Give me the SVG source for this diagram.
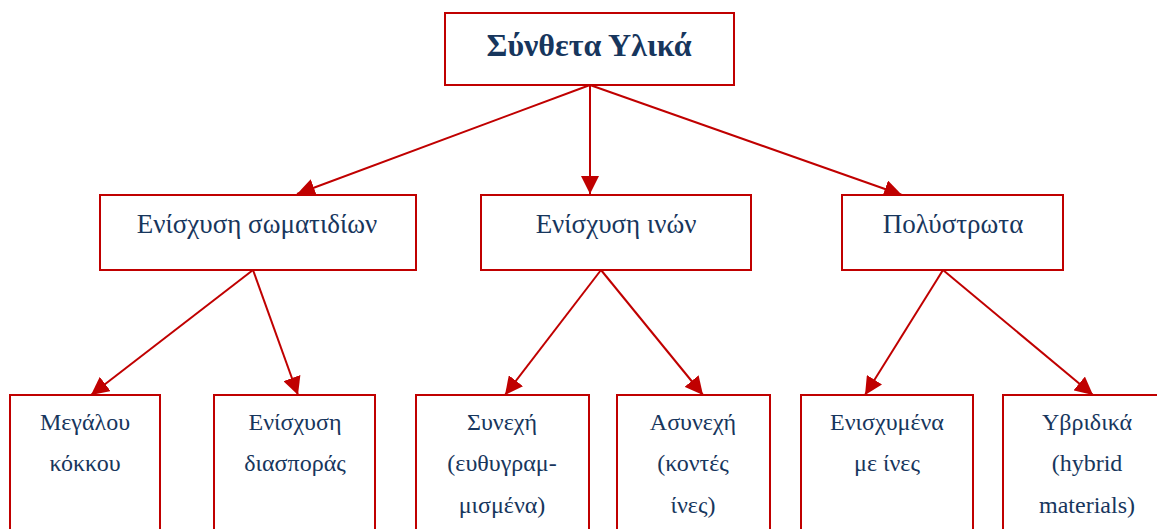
<svg xmlns="http://www.w3.org/2000/svg" width="1157" height="529" viewBox="0 0 1157 529">
<style>
.box{fill:#fff;stroke:#C00000;stroke-width:2}
.t{font-family:'Liberation Serif','DejaVu Serif',serif;fill:#17365D;text-anchor:middle;font-size:24px}
.mid{font-size:27px}
.title{font-size:32px;font-weight:bold}
.c{stroke:#C00000;stroke-width:2;fill:none;marker-end:url(#ah)}
</style>
<defs>
<marker id="ah" markerUnits="userSpaceOnUse" markerWidth="18" markerHeight="18" viewBox="0 0 16 16" refX="16" refY="8" orient="auto">
<path d="M0,0 L16,8 L0,16 Z" fill="#C00000"/>
</marker>
</defs>
<rect width="1157" height="529" fill="#fff"/>
<g id="connectors">
<line class="c" x1="590" y1="85" x2="297" y2="194"/>
<line class="c" x1="590" y1="85" x2="590" y2="194"/>
<line class="c" x1="590" y1="85" x2="902" y2="195"/>
<line class="c" x1="253" y1="270" x2="91" y2="395"/>
<line class="c" x1="253" y1="270" x2="298" y2="395"/>
<line class="c" x1="601" y1="270" x2="505" y2="395"/>
<line class="c" x1="601" y1="270" x2="703" y2="395"/>
<line class="c" x1="943" y1="270" x2="865" y2="395"/>
<line class="c" x1="943" y1="270" x2="1093" y2="395"/>
</g>
<g id="root">
<rect class="box" x="445" y="13" width="289" height="72"/>
<text class="t title" x="589" y="56">Σύνθετα Υλικά</text>
</g>
<g id="particles">
<rect class="box" x="100" y="195" width="316" height="75"/>
<text class="t mid" x="257" y="233">Ενίσχυση σωματιδίων</text>
</g>
<g id="fibers">
<rect class="box" x="481" y="195" width="270" height="75"/>
<text class="t mid" x="616" y="233">Ενίσχυση ινών</text>
</g>
<g id="laminates">
<rect class="box" x="842" y="195" width="221" height="75"/>
<text class="t mid" x="953" y="233">Πολύστρωτα</text>
</g>
<g id="large-grain">
<rect class="box" x="10" y="395" width="150" height="150"/>
<text class="t" x="85" y="430">Μεγάλου</text>
<text class="t" x="85" y="471">κόκκου</text>
</g>
<g id="dispersion">
<rect class="box" x="214" y="395" width="161" height="150"/>
<text class="t" x="295" y="430">Ενίσχυση</text>
<text class="t" x="295" y="471">διασποράς</text>
</g>
<g id="continuous">
<rect class="box" x="416" y="395" width="173" height="150"/>
<text class="t" x="502" y="430">Συνεχή</text>
<text class="t" x="502" y="471">(ευθυγραμ-</text>
<text class="t" x="502" y="513">μισμένα)</text>
</g>
<g id="discontinuous">
<rect class="box" x="617" y="395" width="153" height="150"/>
<text class="t" x="693" y="430">Ασυνεχή</text>
<text class="t" x="693" y="471">(κοντές</text>
<text class="t" x="693" y="513">ίνες)</text>
</g>
<g id="fiber-reinforced">
<rect class="box" x="801" y="395" width="172" height="150"/>
<text class="t" x="887" y="430">Ενισχυμένα</text>
<text class="t" x="887" y="471">με ίνες</text>
</g>
<g id="hybrid">
<rect class="box" x="1003" y="395" width="170" height="150"/>
<text class="t" x="1087" y="430">Υβριδικά</text>
<text class="t" x="1087" y="471">(hybrid</text>
<text class="t" x="1087" y="513">materials)</text>
</g>
</svg>
